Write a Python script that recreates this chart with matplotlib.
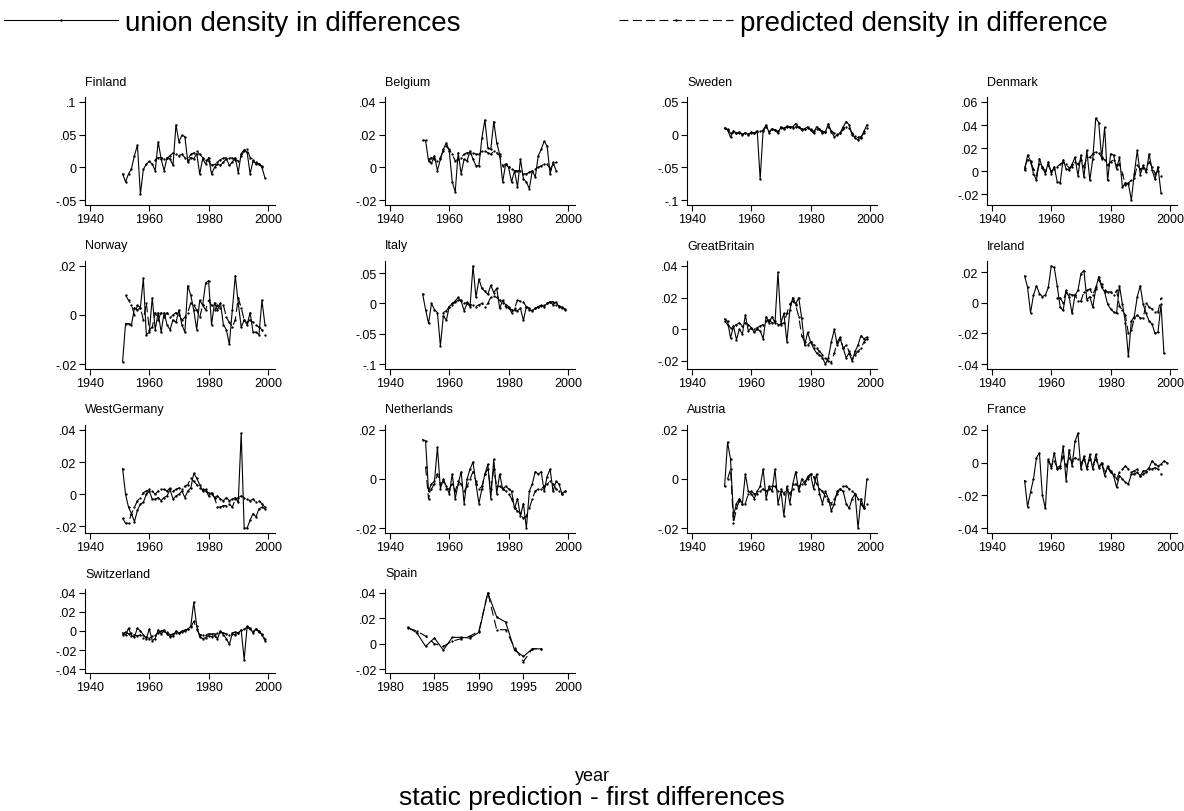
import numpy as np
import matplotlib
matplotlib.use("Agg")
import matplotlib.pyplot as plt
from matplotlib.lines import Line2D

plt.rcParams["font.family"] = ["Liberation Sans", "DejaVu Sans"]

# ---- data: first differences of union density, actual and predicted ----
countries = ["Finland", "Belgium", "Sweden", "Denmark",
             "Norway", "Italy", "GreatBritain", "Ireland",
             "WestGermany", "Netherlands", "Austria", "France",
             "Switzerland", "Spain"]

finland_start, finland_pred_start = 1951, 1962
finland_actual = [-0.010, -0.022, -0.010, -0.002, 0.018, 0.034, -0.041, -0.003, 0.005, 0.009,
                  0.005, -0.005, 0.039, 0.013, -0.005, 0.015, 0.013, 0.003, 0.065, 0.039,
                  0.049, 0.047, 0.008, 0.015, 0.013, 0.021, -0.010, 0.013, 0.005, 0.015,
                  -0.010, 0.000, 0.005, 0.003, 0.008, 0.013, 0.003, 0.008, 0.015, -0.008,
                  0.021, 0.027, 0.023, -0.010, 0.010, 0.005, 0.005, 0.000, -0.016]
finland_pred = [0.012, 0.015, 0.015, 0.013, 0.014, 0.018, 0.022, 0.021, 0.018, 0.020,
                0.015, 0.012, 0.020, 0.022, 0.025, 0.020, 0.015, 0.012, 0.010, 0.003,
                0.005, 0.008, 0.012, 0.014, 0.015, 0.015, 0.014, 0.012, 0.010, 0.018,
                0.025, 0.028, 0.015, 0.012, 0.008, 0.005, 0.002]

belgium_start, belgium_pred_start = 1951, 1953
belgium_actual = [0.0165, 0.0165, 0.004, 0.0025, 0.007, -0.002, 0.005, 0.011, 0.015, 0.010,
                  -0.009, -0.015, 0.009, -0.004, 0.005, 0.004, 0.010, 0.005, 0.001, 0.001,
                  0.018, 0.029, 0.012, 0.011, 0.028, 0.015, 0.008, -0.009, 0.002, 0.000,
                  -0.009, -0.002, -0.012, 0.005, -0.007, -0.009, -0.013, -0.002, -0.006, 0.007,
                  0.011, 0.016, 0.013, -0.004, 0.003, -0.002]
belgium_pred = [0.005, 0.006, 0.005, 0.004, 0.006, 0.010, 0.013, 0.011, 0.008, 0.004,
                0.005, 0.006, 0.008, 0.009, 0.009, 0.009, 0.008, 0.008, 0.010, 0.010,
                0.009, 0.008, 0.010, 0.009, 0.007, 0.001, 0.002, 0.000, -0.001, -0.002,
                -0.002, -0.002, -0.004, -0.004, -0.003, -0.002, -0.001, 0.000, 0.001, 0.002,
                0.002, -0.001, 0.002, 0.003]

sweden_start, sweden_pred_start = 1951, 1951
sweden_actual = [0.010, 0.007, -0.004, 0.006, 0.002, 0.004, 0.000, 0.003, 0.000, 0.004,
                 0.002, 0.006, -0.068, 0.007, 0.015, 0.003, 0.009, 0.007, 0.002, 0.012,
                 0.009, 0.013, 0.012, 0.012, 0.017, 0.011, 0.007, 0.009, 0.012, 0.007,
                 0.002, 0.012, 0.008, 0.002, 0.004, 0.017, 0.004, -0.003, -0.001, 0.003,
                 0.012, 0.020, 0.015, 0.000, -0.005, -0.008, -0.005, 0.005, 0.015]
sweden_pred = [0.010, 0.008, 0.002, 0.004, 0.003, 0.002, 0.001, 0.002, 0.001, 0.002,
               0.003, 0.004, 0.005, 0.006, 0.012, 0.006, 0.008, 0.007, 0.005, 0.010,
               0.010, 0.011, 0.011, 0.010, 0.012, 0.011, 0.009, 0.008, 0.010, 0.008,
               0.005, 0.009, 0.008, 0.005, 0.004, 0.012, 0.006, 0.002, 0.001, 0.002,
               0.008, 0.012, 0.010, 0.002, -0.002, -0.004, -0.003, 0.002, 0.010]

denmark_start, denmark_pred_start = 1951, 1951
denmark_actual = [0.001, 0.014, 0.009, -0.002, -0.008, 0.011, 0.003, -0.002, 0.008, -0.002,
                  0.004, -0.009, -0.010, 0.010, 0.002, 0.001, 0.006, 0.012, -0.004, 0.014,
                  -0.005, 0.018, -0.008, 0.011, 0.046, 0.042, 0.011, 0.038, -0.008, 0.015,
                  0.014, 0.002, 0.012, -0.014, -0.010, -0.011, -0.025, -0.002, 0.018, -0.003,
                  0.005, -0.001, 0.015, 0.001, -0.007, 0.004, -0.019]
denmark_pred = [0.003, 0.010, 0.008, 0.002, -0.003, 0.006, 0.004, 0.000, 0.005, 0.000,
                0.002, 0.004, 0.006, 0.008, 0.006, 0.003, 0.004, 0.008, 0.006, 0.010,
                0.004, 0.012, 0.012, 0.015, 0.017, 0.016, 0.012, 0.010, 0.005, 0.008,
                0.010, 0.005, 0.006, -0.002, -0.012, -0.010, -0.008, -0.006, 0.005, 0.002,
                0.003, 0.002, 0.008, 0.004, -0.002, 0.000, -0.004]

norway_start, norway_pred_start = 1951, 1952
norway_actual = [-0.019, -0.0035, -0.0035, -0.004, 0.003, 0.002, 0.003, 0.015, -0.008, -0.007,
                 0.007, -0.006, 0.001, -0.007, 0.001, -0.004, -0.006, -0.002, -0.003, 0.002,
                 -0.004, -0.007, 0.012, 0.008, 0.002, -0.006, 0.006, 0.004, 0.013, 0.014,
                 -0.004, 0.005, 0.002, 0.005, -0.004, -0.006, -0.012, 0.002, 0.016, 0.005,
                 -0.005, -0.002, -0.004, 0.001, -0.007, -0.007, -0.008, 0.006, -0.004]
norway_pred = [0.008, 0.006, 0.004, 0.000, 0.004, 0.003, -0.002, 0.005, -0.006, -0.005,
               0.001, -0.002, 0.001, -0.001, 0.001, -0.001, 0.000, 0.001, 0.000, -0.002,
               -0.001, 0.001, 0.005, 0.004, 0.002, -0.001, 0.004, 0.002, 0.006, 0.004,
               0.002, 0.004, 0.003, 0.004, -0.001, -0.003, -0.005, -0.002, 0.007, 0.003,
               -0.002, -0.003, -0.002, -0.003, -0.004, -0.005, -0.006, -0.008]

italy_start, italy_pred_start = 1951, 1958
italy_actual = [0.016, -0.010, -0.033, 0.000, -0.010, -0.015, -0.070, -0.020, -0.028, -0.005,
                0.000, 0.004, 0.010, 0.004, -0.012, 0.000, -0.005, 0.062, 0.010, 0.040,
                0.025, 0.020, 0.015, 0.030, 0.018, 0.025, -0.008, 0.005, -0.002, -0.005,
                -0.015, -0.010, -0.012, -0.008, -0.028, -0.005, -0.010, -0.012, -0.008, -0.005,
                -0.003, -0.005, 0.000, 0.003, -0.002, 0.002, -0.005, -0.007, -0.010]
italy_pred = [-0.015, -0.012, -0.005, -0.002, 0.002, 0.005, 0.005, 0.000, 0.002, -0.002,
              -0.002, -0.005, -0.002, 0.000, -0.005, 0.000, 0.010, 0.012, 0.010, 0.005,
              0.000, -0.005, -0.008, -0.010, -0.008, 0.005, 0.004, 0.002, -0.005, -0.008,
              -0.010, -0.008, -0.006, -0.004, -0.003, 0.000, 0.002, 0.003, -0.002, -0.004,
              -0.006, -0.009]

britain_start, britain_pred_start = 1951, 1951
britain_actual = [0.0065, 0.005, -0.0055, 0.002, -0.0065, 0.000, -0.003, 0.009, -0.001, 0.001,
                  -0.002, 0.000, -0.001, -0.006, 0.008, 0.004, 0.008, 0.004, 0.036, 0.004,
                  0.010, -0.008, 0.012, 0.020, 0.016, 0.020, 0.007, -0.010, -0.002, -0.008,
                  -0.012, -0.015, -0.016, -0.018, -0.022, -0.018, -0.008, 0.000, -0.010, -0.006,
                  -0.012, -0.018, -0.015, -0.020, -0.014, -0.010, -0.004, -0.006, -0.005]
britain_pred = [0.005, 0.003, 0.001, 0.002, 0.003, 0.004, 0.002, 0.004, 0.003, 0.001,
                0.000, 0.001, 0.002, 0.003, 0.005, 0.006, 0.004, 0.005, 0.003, 0.003,
                0.004, 0.010, 0.016, 0.018, 0.015, 0.008, -0.004, -0.008, -0.010, -0.008,
                -0.010, -0.012, -0.014, -0.016, -0.018, -0.020, -0.021, -0.015, -0.008, -0.005,
                -0.012, -0.010, -0.014, -0.018, -0.016, -0.014, -0.012, -0.008, -0.006]

ireland_start, ireland_pred_start = 1951, 1962
ireland_actual = [0.0175, 0.010, -0.0065, 0.005, 0.011, 0.006, 0.004, 0.005, 0.010, 0.024,
                  0.023, 0.011, -0.003, -0.005, 0.007, 0.004, -0.007, 0.005, 0.008, 0.019,
                  0.021, 0.002, 0.004, -0.003, 0.009, 0.017, 0.010, 0.007, -0.001, -0.004,
                  -0.006, -0.007, 0.011, -0.001, -0.013, -0.035, -0.012, -0.009, 0.004, 0.011,
                  -0.001, -0.007, -0.012, -0.014, -0.020, -0.019, -0.001, -0.033]
ireland_pred = [0.003, 0.003, 0.000, 0.008, 0.006, 0.005, 0.005, 0.001, 0.001, 0.007,
                0.008, 0.009, 0.005, 0.010, 0.015, 0.012, 0.008, 0.007, 0.007, 0.005,
                0.008, -0.002, -0.005, -0.008, -0.020, -0.018, -0.010, -0.008, -0.010, -0.010,
                0.000, -0.003, -0.004, -0.006, -0.006, 0.003]

wgermany_start, wgermany_pred_start = 1951, 1951
wgermany_actual = [0.016, 0.000, -0.008, -0.012, -0.017, -0.010, -0.006, -0.005, 0.000, 0.002,
                   -0.003, -0.003, -0.002, -0.004, -0.002, -0.001, 0.003, -0.003, -0.001, 0.000,
                   0.002, -0.002, 0.002, 0.004, 0.013, 0.010, 0.006, 0.002, 0.003, -0.001,
                   0.001, -0.002, -0.001, -0.003, -0.004, -0.002, -0.004, -0.003, -0.002, -0.005,
                   0.038, -0.021, -0.021, -0.016, -0.012, -0.014, -0.009, -0.008, -0.009]
wgermany_pred = [-0.015, -0.018, -0.018, -0.012, -0.008, -0.004, -0.002, 0.001, 0.002, 0.003,
                 0.002, 0.000, 0.002, 0.003, 0.003, 0.002, 0.004, 0.002, 0.003, 0.004,
                 0.003, 0.005, 0.006, 0.010, 0.008, 0.006, 0.004, 0.003, 0.002, 0.001,
                 0.000, -0.002, -0.008, -0.008, -0.007, -0.007, -0.006, -0.008, -0.003, -0.002,
                 -0.001, -0.002, -0.003, -0.004, -0.003, -0.005, -0.004, -0.006, -0.008]

netherlands_start, netherlands_pred_start = 1951, 1952
netherlands_actual = [0.016, 0.0155, -0.005, -0.002, -0.001, 0.013, -0.004, 0.000, -0.003, -0.006,
                      0.002, -0.008, -0.002, 0.003, -0.010, 0.000, 0.004, 0.007, -0.002, -0.010,
                      -0.004, 0.002, 0.006, -0.008, 0.008, -0.006, 0.002, -0.004, -0.003, -0.004,
                      -0.005, -0.012, -0.008, -0.015, -0.010, -0.020, -0.005, -0.002, 0.003, 0.002,
                      0.003, -0.005, 0.001, 0.004, -0.005, -0.001, -0.002, -0.006, -0.005]
netherlands_pred = [0.005, -0.008, -0.004, -0.002, 0.002, -0.002, -0.001, -0.004, -0.004, -0.002,
                    -0.005, -0.001, -0.002, -0.005, -0.003, 0.000, 0.003, -0.001, -0.004, -0.003,
                    0.002, 0.004, -0.004, 0.004, -0.003, -0.003, -0.004, -0.005, -0.006, -0.008,
                    -0.012, -0.013, -0.014, -0.016, -0.015, -0.012, -0.008, -0.005, -0.004, -0.004,
                    -0.003, -0.002, -0.001, -0.002, -0.004, -0.005, -0.006, -0.005]

austria_start, austria_pred_start = 1951, 1952
austria_actual = [-0.003, 0.015, 0.008, -0.015, -0.010, -0.008, -0.010, 0.002, -0.005, -0.006,
                  -0.008, -0.005, -0.003, 0.004, -0.008, -0.003, -0.005, 0.004, -0.010, -0.005,
                  -0.015, -0.003, -0.010, -0.002, 0.003, -0.005, 0.000, -0.002, 0.001, 0.002,
                  -0.004, 0.002, -0.006, -0.010, -0.005, -0.008, -0.013, -0.010, -0.005, -0.004,
                  -0.005, -0.010, -0.012, -0.008, -0.006, -0.020, -0.008, -0.012, 0.000]
austria_pred = [0.000, 0.004, -0.018, -0.012, -0.009, -0.010, -0.010, -0.006, -0.005, -0.006,
                -0.006, -0.005, -0.004, -0.005, -0.004, -0.003, -0.003, -0.005, -0.004, -0.006,
                -0.004, -0.006, -0.004, -0.002, -0.003, -0.002, -0.001, 0.000, 0.002, 0.001,
                -0.002, -0.004, -0.005, -0.007, -0.009, -0.010, -0.008, -0.006, -0.004, -0.003,
                -0.003, -0.004, -0.005, -0.006, -0.008, -0.010, -0.012, -0.010]

france_start, france_pred_start = 1951, 1959
france_actual = [-0.011, -0.027, -0.018, -0.010, 0.003, 0.006, -0.020, -0.028, 0.002, -0.003,
                 0.006, -0.004, -0.003, 0.010, -0.011, 0.008, -0.002, 0.013, 0.018, -0.004,
                 0.004, -0.004, 0.005, -0.004, 0.005, -0.003, 0.000, -0.008, -0.002, -0.005,
                 -0.008, -0.015, -0.008, -0.010, -0.012, -0.013, -0.007, -0.007, -0.006, -0.008,
                 -0.005, -0.005, -0.003, 0.001, -0.001, -0.002, -0.001, 0.001, 0.000]
france_pred = [0.001, -0.002, 0.001, -0.003, -0.002, 0.004, -0.002, 0.003, 0.001, 0.003,
               0.002, 0.000, 0.002, -0.002, 0.002, -0.001, 0.002, -0.002, -0.001, -0.005,
               -0.003, -0.006, -0.007, -0.010, -0.006, -0.004, -0.002, -0.004, -0.006, -0.005,
               -0.004, -0.008, -0.007, -0.006, -0.004, -0.004, -0.003, -0.004, -0.007]

swiss_start, swiss_pred_start = 1951, 1951
swiss_actual = [-0.002, -0.004, 0.003, -0.005, -0.006, 0.003, 0.000, -0.004, -0.008, 0.002,
                -0.010, -0.008, 0.001, -0.003, 0.000, -0.003, -0.006, -0.005, 0.000, -0.002,
                0.000, 0.001, 0.002, 0.005, 0.030, 0.005, -0.006, -0.008, -0.007, -0.005,
                -0.006, -0.005, -0.008, 0.000, -0.004, -0.008, -0.014, -0.003, -0.004, -0.002,
                0.001, -0.030, 0.005, 0.003, -0.002, 0.002, 0.000, -0.004, -0.010]
swiss_pred = [-0.004, -0.001, -0.003, -0.002, -0.004, -0.005, -0.004, -0.007, -0.006, -0.008,
              -0.005, -0.004, -0.002, 0.000, 0.001, -0.001, -0.004, -0.003, -0.002, -0.002,
              -0.001, 0.000, 0.002, 0.004, 0.010, 0.002, -0.004, -0.004, -0.004, -0.003,
              -0.003, -0.003, -0.002, -0.001, -0.002, -0.003, -0.004, -0.002, -0.001, -0.002,
              0.001, 0.002, 0.004, 0.002, 0.000, 0.002, -0.001, -0.003, -0.008]

spain_start, spain_pred_start = 1982, 1982
spain_actual = [0.0128, 0.0087, -0.002, 0.0045, -0.005, 0.005, 0.005, 0.0045, 0.009, 0.040,
                0.021, 0.017, -0.005, -0.010, -0.004, -0.004]
spain_pred = [0.0125, 0.010, 0.006, 0.000, -0.002, 0.002, 0.004, 0.006, 0.010, 0.040,
              0.011, 0.011, -0.003, -0.014, -0.004, -0.004]

yticks = {
    "Finland": [-0.05, 0, 0.05, 0.1],
    "Belgium": [-0.02, 0, 0.02, 0.04],
    "Sweden": [-0.1, -0.05, 0, 0.05],
    "Denmark": [-0.02, 0, 0.02, 0.04, 0.06],
    "Norway": [-0.02, 0, 0.02],
    "Italy": [-0.1, -0.05, 0, 0.05],
    "GreatBritain": [-0.02, 0, 0.02, 0.04],
    "Ireland": [-0.04, -0.02, 0, 0.02],
    "WestGermany": [-0.02, 0, 0.02, 0.04],
    "Netherlands": [-0.02, 0, 0.02],
    "Austria": [-0.02, 0, 0.02],
    "France": [-0.04, -0.02, 0, 0.02],
    "Switzerland": [-0.04, -0.02, 0, 0.02, 0.04],
    "Spain": [-0.02, 0, 0.02, 0.04],
}
year_ticks = [1940, 1960, 1980, 2000]
spain_year_ticks = [1980, 1985, 1990, 1995, 2000]

series = {
    "Finland": (finland_start, finland_actual, finland_pred_start, finland_pred),
    "Belgium": (belgium_start, belgium_actual, belgium_pred_start, belgium_pred),
    "Sweden": (sweden_start, sweden_actual, sweden_pred_start, sweden_pred),
    "Denmark": (denmark_start, denmark_actual, denmark_pred_start, denmark_pred),
    "Norway": (norway_start, norway_actual, norway_pred_start, norway_pred),
    "Italy": (italy_start, italy_actual, italy_pred_start, italy_pred),
    "GreatBritain": (britain_start, britain_actual, britain_pred_start, britain_pred),
    "Ireland": (ireland_start, ireland_actual, ireland_pred_start, ireland_pred),
    "WestGermany": (wgermany_start, wgermany_actual, wgermany_pred_start, wgermany_pred),
    "Netherlands": (netherlands_start, netherlands_actual, netherlands_pred_start, netherlands_pred),
    "Austria": (austria_start, austria_actual, austria_pred_start, austria_pred),
    "France": (france_start, france_actual, france_pred_start, france_pred),
    "Switzerland": (swiss_start, swiss_actual, swiss_pred_start, swiss_pred),
    "Spain": (spain_start, spain_actual, spain_pred_start, spain_pred),
}


def stata_label(v):
    s = f"{v:g}"
    return s.replace("0.", ".")


W, H = 1184, 812
fig = plt.figure(figsize=(W / 100, H / 100), dpi=100)

col_left = [85, 385, 687, 987]
row_top = [98, 262, 426, 590]
row_h = [108, 108, 108, 84]
ax_w = 190

solid_kw = dict(color="black", lw=0.8, marker=".", ms=1.4)
dash_kw = dict(color="black", lw=0.8, ls=(0, (8, 4)), marker=".", ms=1.4)

for i, name in enumerate(countries):
    r, c = divmod(i, 4)
    h = row_h[r]
    ax = fig.add_axes([col_left[c] / W, 1 - (row_top[r] + h) / H, ax_w / W, h / H])
    start, act, pstart, pred = series[name]
    yrs = np.arange(start, start + len(act))
    pyrs = np.arange(pstart, pstart + len(pred))
    ax.plot(yrs, act, **solid_kw)
    ax.plot(pyrs, pred, **dash_kw)

    ticks = yticks[name]
    lo = min(ticks[0], min(act), min(pred))
    hi = max(ticks[-1], max(act), max(pred))
    pad = 0.05 * (hi - lo)
    ax.set_ylim(lo - pad, hi + pad)
    ax.set_yticks(ticks)
    ax.set_yticklabels([stata_label(t) for t in ticks])

    xt = spain_year_ticks if name == "Spain" else year_ticks
    span = xt[-1] - xt[0]
    ax.set_xlim(xt[0] - 0.028 * span, xt[-1] + 0.04 * span)
    ax.set_xticks(xt)

    for s in ("top", "right"):
        ax.spines[s].set_visible(False)
    for s in ("left", "bottom"):
        ax.spines[s].set_linewidth(0.8)
    ax.tick_params(direction="out", length=4, width=0.8, labelsize=9, pad=2)
    ax.set_title(name, loc="left", fontsize=9, pad=9)

handles = [Line2D([], [], **solid_kw), Line2D([], [], **dash_kw)]
fig.legend(handles, ["union density in differences", "predicted density in difference"],
           loc="upper left", bbox_to_anchor=(4 / W, 1 - 11 / H), ncol=2, frameon=False,
           fontsize=20, handlelength=4.1, handletextpad=0.25, columnspacing=5.7,
           borderaxespad=0, borderpad=0, numpoints=1)

fig.text(0.5, 1 - 781 / H, "year", ha="center", va="baseline", fontsize=13)
fig.text(0.5, 1 - 805 / H, "static prediction - first differences", ha="center",
         va="baseline", fontsize=19)

fig.savefig("out.png", dpi=100)
